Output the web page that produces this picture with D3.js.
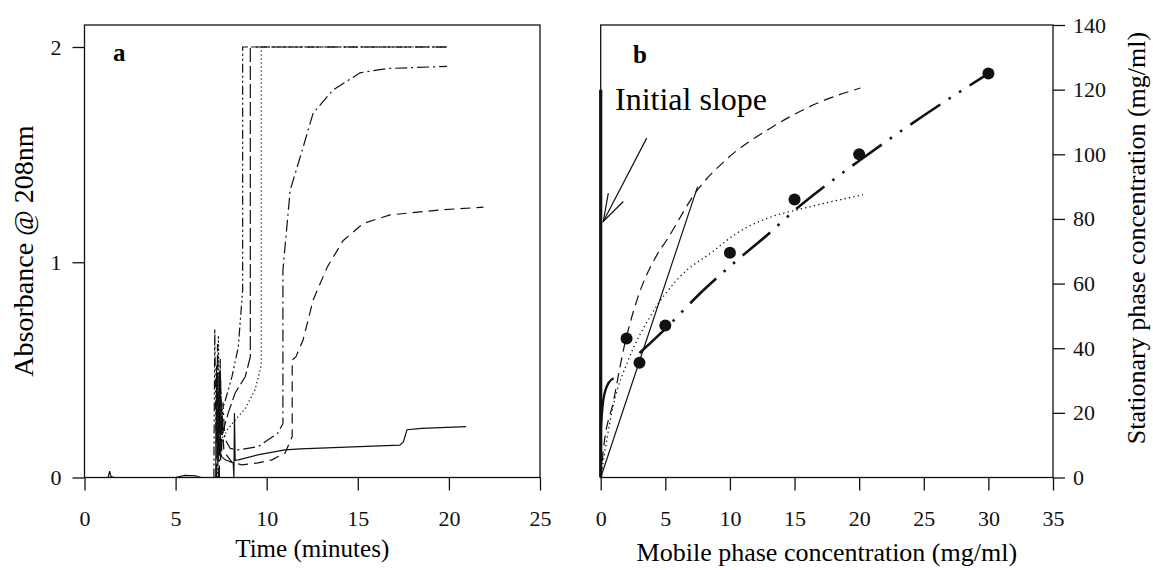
<!DOCTYPE html>
<html><head><meta charset="utf-8">
<script src="https://cdn.jsdelivr.net/npm/d3@7"></script>
<style>
body{margin:0;background:#fff;}
svg{display:block;font-family:"Liberation Serif","DejaVu Serif",serif;}
</style></head>
<body><svg id="c" width="1153" height="570"></svg>
<script>
// ---------- Panel a data: Time (min) vs Absorbance ----------
const timeTicks = [0,5,10,15,20,25];
const absTicks = [0,1,2];
const solidTrace = [[0,0],[1.3,0],[1.38,0.03],[1.45,0.005],[1.6,0],[5.0,0],[5.5,0.01],[6.1,0.008],[6.4,0],[7.2,0],[7.25,0.52],[7.32,0.05],[7.4,0.45],[7.48,0.1],[7.73,0.082],[8.16,0.068],[8.2,0],[8.23,0.30],[8.27,0.08],[8.45,0.082],[9.5,0.105],[11.0,0.128],[11.85,0.133],[14,0.14],[17.3,0.15],[17.5,0.165],[17.7,0.222],[18.5,0.228],[20.95,0.236]];
const dashDotDotTrace = [[7.1,0],[7.15,0.69],[7.22,0.15],[7.3,0.45],[7.38,0.25],[7.5,0.3],[7.73,0.36],[8.09,0.467],[8.44,0.606],[8.68,0.87],[8.68,2.0],[19.9,2.0]];
const longDashTrace = [[7.25,0],[7.3,0.62],[7.37,0.1],[7.45,0.5],[7.55,0.2],[7.89,0.30],[8.27,0.393],[8.82,0.468],[9.1,0.56],[9.1,2.0],[19.9,2.0]];
const dottedTrace = [[7.3,0],[7.35,0.66],[7.42,0.12],[7.5,0.4],[7.58,0.17],[7.81,0.22],[8.27,0.267],[8.82,0.32],[9.37,0.41],[9.7,0.52],[9.7,2.0],[19.9,2.0]];
const dashDotTrace = [[7.4,0],[7.45,0.55],[7.52,0.1],[7.6,0.35],[7.7,0.18],[8.0,0.135],[8.4,0.128],[9.53,0.143],[10.6,0.205],[10.89,0.25],[10.89,0.964],[11.29,1.335],[11.84,1.489],[12.55,1.693],[13.64,1.80],[15.12,1.88],[16.6,1.90],[19.9,1.91]];
const dashedTrace = [[7.35,0],[7.4,0.5],[7.47,0.08],[7.55,0.3],[7.65,0.12],[8.1,0.07],[8.64,0.059],[9.53,0.068],[10.28,0.082],[11.01,0.114],[11.4,0.19],[11.4,0.546],[11.6,0.56],[12.0,0.64],[12.55,0.825],[13.32,0.977],[14.19,1.10],[15.29,1.18],[16.77,1.22],[19.5,1.243],[21.9,1.256]];

// ---------- Panel b data: mobile vs stationary phase concentration ----------
const mobileTicks = [0,5,10,15,20,25,30,35];
const statTicks = [0,20,40,60,80,100,120,140];
const measuredX = [2,3,5,10,15,20,30];
const measuredY = [43,35.5,47,69.5,86,100,125];
const fitCurve = [[3.0,38.5],[5,46],[7.8,57.4],[10.4,66.7],[12.85,74.9],[15.17,83.2],[17.5,90.6],[20,98],[25,112],[30,125]];
const dottedIsotherm = [[0,0],[1,22.8],[2.1,36],[3.8,49.6],[6.1,62],[8.7,70],[10.5,75.5],[13.1,80.5],[15.4,83],[17.5,85],[20.3,87.5]];
const dashedIsotherm = [[0,0],[0.2,8.4],[1,23.8],[1.75,39.3],[2.8,54.8],[4.3,68.5],[5.1,73.4],[7.4,88.5],[9.75,98.5],[13.1,108],[16.7,115.7],[20.1,120.5]];
const straightLine = [[0,0],[7.5,90]];
const shortCurve = [[0,15],[0.2,24],[0.6,29.2],[1.0,30.7]];
const initialSlope = [[0,0],[0,120]];
const arrowShaft = [[3.56,105],[0.2,79.2]];
const arrowHead = [[1.75,85.4],[0.2,79.2],[0.59,88.0]];

const svg = d3.select("#c");
const black = "#111";

// ---------- Panel a ----------
const xa = d3.scaleLinear([0,25],[84.5,540]);
const ya = d3.scaleLinear([0,2],[477.5,47]);
const ga = svg.append("g");
ga.append("rect").attr("x",xa(0)).attr("y",25).attr("width",xa(25)-xa(0)).attr("height",ya(0)-25)
  .attr("fill","none").attr("stroke",black).attr("stroke-width",1.3);
const axA = ga.append("g").attr("transform",`translate(0,${ya(0)})`)
  .call(d3.axisBottom(xa).tickValues(timeTicks).tickSize(13).tickPadding(20).tickSizeOuter(0));
const ayA = ga.append("g").attr("transform",`translate(${xa(0)},0)`)
  .call(d3.axisLeft(ya).tickValues(absTicks).tickFormat(d3.format("d")).tickSize(12).tickPadding(11).tickSizeOuter(0));
[axA,ayA].forEach(g=>{g.select(".domain").remove();
  g.selectAll("line").attr("stroke",black).attr("stroke-width",1.3);
  g.selectAll("text").attr("font-family","Liberation Serif").attr("font-size",22).attr("fill",black);});

const lineA = d3.line().x(d=>xa(d[0])).y(d=>ya(d[1]));
const tracesA = [
  {d:solidTrace, dash:null},
  {d:dashDotDotTrace, dash:"9,3,2,3,2,3"},
  {d:longDashTrace, dash:"14,4"},
  {d:dottedTrace, dash:"1.3,2.7"},
  {d:dashDotTrace, dash:"12,4,2,4"},
  {d:dashedTrace, dash:"10,6"}
];
ga.selectAll("path.tr").data(tracesA).join("path").attr("class","tr")
  .attr("d",t=>lineA(t.d)).attr("fill","none").attr("stroke",black).attr("stroke-width",1.2)
  .attr("stroke-dasharray",t=>t.dash);

ga.append("text").attr("x",113).attr("y",61).attr("font-weight","bold").attr("font-size",25).text("a");
ga.append("text").attr("x",(xa(0)+xa(25))/2).attr("y",557).attr("text-anchor","middle").attr("font-size",25).text("Time (minutes)");
ga.append("text").attr("transform","translate(33,251) rotate(-90)").attr("text-anchor","middle").attr("font-size",28).text("Absorbance @ 208nm");

// ---------- Panel b ----------
const xb = d3.scaleLinear([0,35],[600.7,1053]);
const yb = d3.scaleLinear([0,140],[477.5,25]);
const gb = svg.append("g");
gb.append("rect").attr("x",xb(0)).attr("y",yb(140)).attr("width",xb(35)-xb(0)).attr("height",yb(0)-yb(140))
  .attr("fill","none").attr("stroke",black).attr("stroke-width",1.3);
const axB = gb.append("g").attr("transform",`translate(0,${yb(0)})`)
  .call(d3.axisBottom(xb).tickValues(mobileTicks).tickSize(13).tickPadding(20).tickSizeOuter(0));
const ayB = gb.append("g").attr("transform",`translate(${xb(35)},0)`)
  .call(d3.axisRight(yb).tickValues(statTicks).tickSize(12).tickPadding(8).tickSizeOuter(0));
[axB,ayB].forEach(g=>{g.select(".domain").remove();
  g.selectAll("line").attr("stroke",black).attr("stroke-width",1.3);
  g.selectAll("text").attr("font-family","Liberation Serif").attr("font-size",22).attr("fill",black);});

const lineB = d3.line().x(d=>xb(d[0])).y(d=>yb(d[1]));
const smoothB = d3.line().x(d=>xb(d[0])).y(d=>yb(d[1])).curve(d3.curveMonotoneX);

gb.append("path").attr("d",lineB(initialSlope)).attr("stroke",black).attr("stroke-width",3.2).attr("fill","none");
gb.append("path").attr("d",smoothB(shortCurve)).attr("stroke",black).attr("stroke-width",2.4).attr("fill","none");
gb.append("path").attr("d",lineB(straightLine)).attr("stroke",black).attr("stroke-width",1.2).attr("fill","none");
gb.append("path").attr("d",smoothB(dashedIsotherm)).attr("stroke",black).attr("stroke-width",1.2).attr("fill","none").attr("stroke-dasharray","10,6");
gb.append("path").attr("d",smoothB(dottedIsotherm)).attr("stroke",black).attr("stroke-width",1.3).attr("fill","none").attr("stroke-dasharray","1.3,3.2");
gb.append("path").attr("d",smoothB(fitCurve)).attr("stroke",black).attr("stroke-width",2.6).attr("fill","none").attr("stroke-dasharray","36,10,2.5,10,2.5,10");
gb.selectAll("circle").data(measuredX.map((x,i)=>[x,measuredY[i]])).join("circle")
  .attr("cx",d=>xb(d[0])).attr("cy",d=>yb(d[1])).attr("r",6).attr("fill",black);
gb.append("path").attr("d",lineB(arrowShaft)).attr("stroke",black).attr("stroke-width",1.2).attr("fill","none");
gb.append("path").attr("d",lineB(arrowHead)).attr("stroke",black).attr("stroke-width",1.2).attr("fill","none");

gb.append("text").attr("x",633).attr("y",63).attr("font-weight","bold").attr("font-size",25).text("b");
gb.append("text").attr("x",615).attr("y",110).attr("font-size",32).text("Initial slope");
gb.append("text").attr("x",(xb(0)+xb(35))/2).attr("y",561).attr("text-anchor","middle").attr("font-size",26).text("Mobile phase concentration (mg/ml)");
gb.append("text").attr("transform","translate(1145,238) rotate(-90)").attr("text-anchor","middle").attr("font-size",26).text("Stationary phase concentration (mg/ml)");
</script></body></html>
